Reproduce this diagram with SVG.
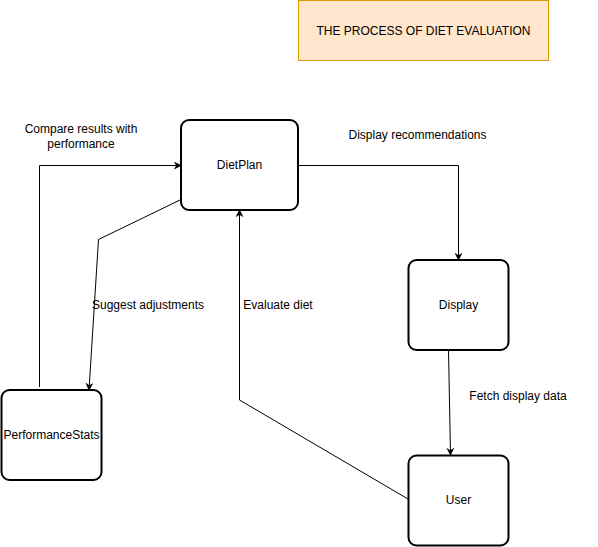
<svg xmlns="http://www.w3.org/2000/svg" width="598" height="547" viewBox="0 0 598 547">
<defs>
<style>
.node{fill:#ffffff;stroke:#000000;stroke-width:2}
.title{fill:#ffe6cc;stroke:#d79b00;stroke-width:1}
text{font-family:"Liberation Sans",Arial,Helvetica,sans-serif;font-size:12px;fill:#000000}
.c{text-anchor:middle}
.edge{fill:none;stroke:#000000;stroke-width:1}
</style>
<marker id="arr" viewBox="0 0 10 10" refX="9" refY="5" markerWidth="8" markerHeight="8" markerUnits="userSpaceOnUse" orient="auto">
<path d="M0,0 L10,5 L0,10 L3,5 Z" fill="#000000"/>
</marker>
</defs>
<rect width="598" height="547" fill="#ffffff"/>
<g id="title">
<rect class="title" x="298.5" y="0.5" width="250" height="60"/>
<text class="c" x="423.5" y="35">THE PROCESS OF DIET EVALUATION</text>
</g>
<g id="connectors">
<polyline class="edge" points="39.5,387 39.5,165.5 181,165.5" marker-end="url(#arr)"/>
<polyline class="edge" points="180,200 98.5,239.5 89,390" marker-end="url(#arr)"/>
<polyline class="edge" points="298,165.5 458.5,165.5 458.5,260" marker-end="url(#arr)"/>
<polyline class="edge" points="448.5,350 450.5,455" marker-end="url(#arr)"/>
<polyline class="edge" points="408,499 239.5,400 239.5,210" marker-end="url(#arr)"/>
<text class="c" x="81" y="133">Compare results with</text>
<text class="c" x="81" y="148">performance</text>
<text class="c" x="417.5" y="139">Display recommendations</text>
<text class="c" x="148" y="309">Suggest adjustments</text>
<text class="c" x="278" y="309">Evaluate diet</text>
<text class="c" x="518" y="400">Fetch display data</text>
</g>
<g id="DietPlan">
<rect class="node" x="181" y="120" width="117" height="90" rx="8" ry="8"/>
<text class="c" x="239.5" y="169">DietPlan</text>
</g>
<g id="Display">
<rect class="node" x="408.5" y="260" width="100" height="90" rx="8" ry="8"/>
<text class="c" x="458.5" y="309">Display</text>
</g>
<g id="User">
<rect class="node" x="408.5" y="455.5" width="100" height="90" rx="8" ry="8"/>
<text class="c" x="458.5" y="504">User</text>
</g>
<g id="PerformanceStats">
<rect class="node" x="1.5" y="390" width="100" height="90" rx="8" ry="8"/>
<text class="c" x="51.5" y="439">PerformanceStats</text>
</g>
</svg>
